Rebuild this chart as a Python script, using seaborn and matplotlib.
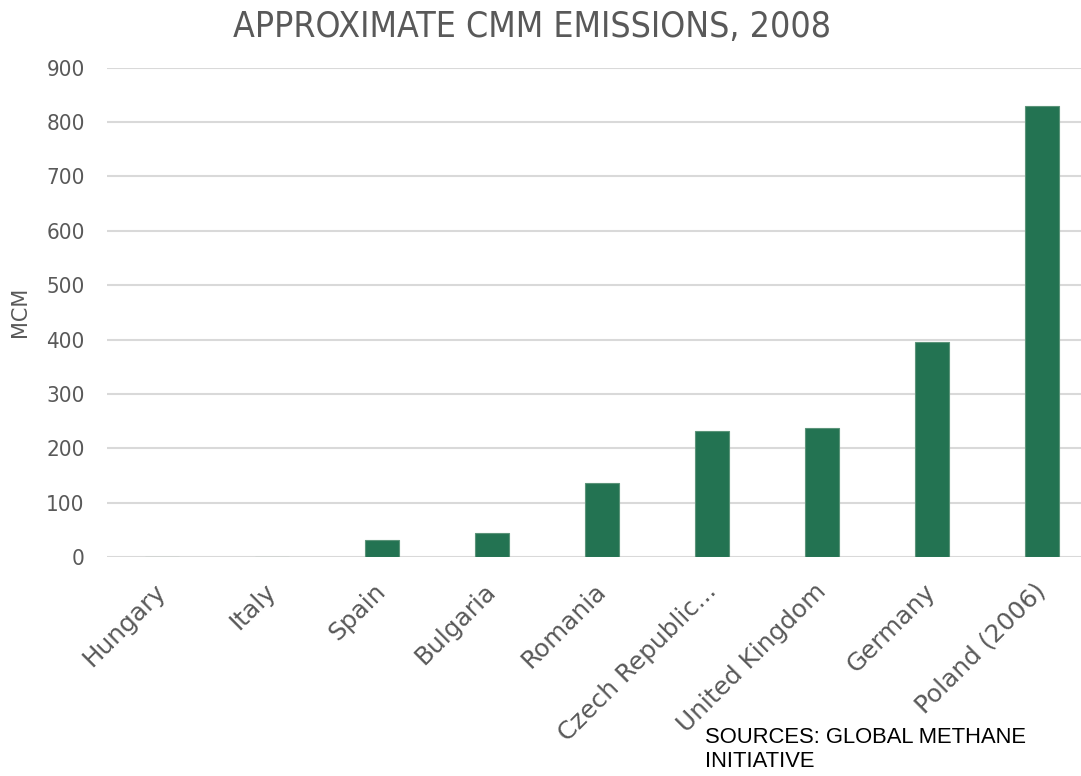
import matplotlib
matplotlib.use("Agg")
import matplotlib.pyplot as plt
import seaborn as sns
import pandas as pd

# Chart data
countries = ['Hungary', 'Italy', 'Spain', 'Bulgaria', 'Romania',
             'Czech Republic...', 'United Kingdom', 'Germany', 'Poland (2006)']
emissions = [1, 1, 31, 45, 136, 232, 237, 395, 829]
yticks = [0, 100, 200, 300, 400, 500, 600, 700, 800, 900]

df = pd.DataFrame({'country': countries, 'mcm': emissions})

sns.set_theme(style='white')
plt.rcParams['font.family'] = ['DejaVu Sans']

fig = plt.figure(figsize=(10.81, 7.76), dpi=100)
ax = fig.add_axes([0.099, 0.282, 0.916, 0.631])

sns.barplot(data=df, x='country', y='mcm', color='#237352', width=0.31,
            edgecolor='#5b9479', linewidth=0.8, saturation=1, ax=ax)

ax.set_ylim(0, 900)
ax.set_yticks(yticks)
ax.yaxis.grid(True, color='#d9d9d9', linewidth=1.5)
ax.set_axisbelow(True)
for s in ax.spines.values():
    s.set_visible(False)

gray = '#595959'
ax.tick_params(axis='y', labelsize=16, labelcolor=gray, length=0, pad=16)
ax.tick_params(axis='x', labelsize=17.8, labelcolor=gray, length=0, pad=22)
for lab in ax.get_yticklabels():
    lab.set_fontstretch('condensed')
for lab in ax.get_xticklabels():
    lab.set_rotation(45)
    lab.set_ha('right')
    lab.set_va('center')
    lab.set_rotation_mode('anchor')
    lab.set_x(lab.get_position()[0])

ax.set_xlabel('')
ax.set_ylabel('MCM', fontsize=15, color=gray, labelpad=12)

fig.text(0.492, 0.965, 'APPROXIMATE CMM EMISSIONS, 2008', ha='center', va='center',
         fontsize=25.6, color=gray, fontstretch='condensed')
fig.text(0.652, 0.063, 'SOURCES: GLOBAL METHANE\nINITIATIVE', ha='left', va='top',
         fontsize=15.8, color='black', family='Liberation Sans', linespacing=1.2)

fig.savefig('out.png', dpi=100)
